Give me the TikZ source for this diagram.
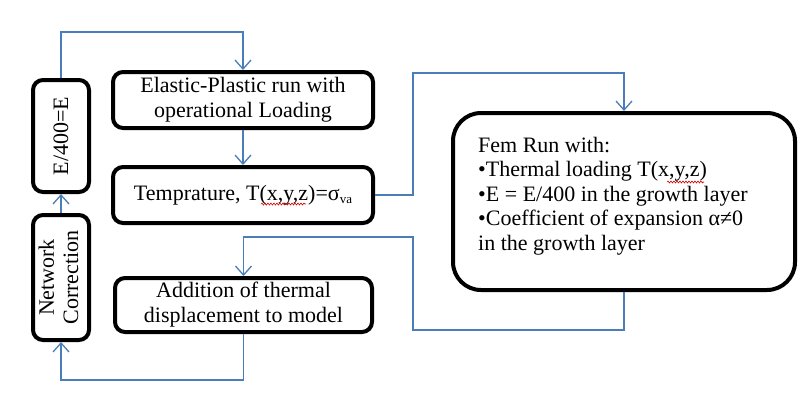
\documentclass[tikz,border=0pt]{standalone}
\usepackage{fontspec}
\setmainfont{Liberation Serif}
\usetikzlibrary{arrows.meta,decorations.pathmorphing}
\definecolor{conncol}{HTML}{4A7EBB}
\begin{document}
\begin{tikzpicture}[x=1pt,y=-1pt,
  box/.style={draw=black,line width=4pt,rounded corners=10pt,fill=white,
    inner sep=0pt,align=center,font=\fontsize{22}{25}\selectfont},
  conn/.style={draw=conncol,line width=1.3pt,-{Straight Barb[length=9pt,width=16pt,line width=1.3pt]}},
  wavy/.style={draw=red!85!black,line width=0.6pt,decorate,decoration={snake,amplitude=1pt,segment length=3pt}}]
\useasboundingbox (0,0) rectangle (810,397);
\fill[white] (0,0) rectangle (810,397);
\node[box,minimum width=56pt,minimum height=112pt] (e400) at (61,136) {\rotatebox{90}{E/400=E}};
\node[box,minimum width=56pt,minimum height=125pt] (nc) at (61,277.5) {\rotatebox{90}{\begin{tabular}{@{}c@{}}Network\\[-1pt]Correction\end{tabular}}};
\node[box,minimum width=260pt,minimum height=56pt] (elastic) at (243,100) {Elastic-Plastic run with\\operational Loading};
\node[box,minimum width=260pt,minimum height=56pt] (temp) at (243,195) {Temprature, T(x,y,z)=σ\raisebox{-0.3ex}{\fontsize{13}{13}\selectfont va}};
\node[box,minimum width=257pt,minimum height=54pt] (add) at (243.5,305) {Addition of thermal\\displacement to model};
\node[box,rounded corners=28pt,minimum width=342pt,minimum height=177pt] (fem) at (624,201.5) {};
\node[font=\fontsize{22}{24.5}\selectfont,align=left,anchor=north west,inner sep=0pt] (femtext) at (478,137)
  {Fem Run with:\\•Thermal loading T(x,y,z)\\•E = E/400 in the growth layer\\•Coefficient of expansion α≠0\\in the growth layer};
\coordinate (c1) at (61,32);
\coordinate (c2) at (413,73);
\coordinate (c3) at (413,330);
\coordinate (c4) at (413,237);
\coordinate (c5) at (61,380);
\draw[conn] (e400.north) -- (c1) -| (elastic.north);
\draw[conn] (elastic.south) -- (temp.north);
\draw[conn] (temp.east) -| (c2) -| (fem.north);
\draw[conn] (fem.south) |- (c3) -- (c4) -| (add.north);
\draw[conn] (add.south) |- (c5) -- (nc.south);
\draw[conn] (nc.north) -- (e400.south);
\draw[wavy] (261,204) -- (306,204);
\draw[wavy] (667,182) -- (704,182);
\end{tikzpicture}
\end{document}
